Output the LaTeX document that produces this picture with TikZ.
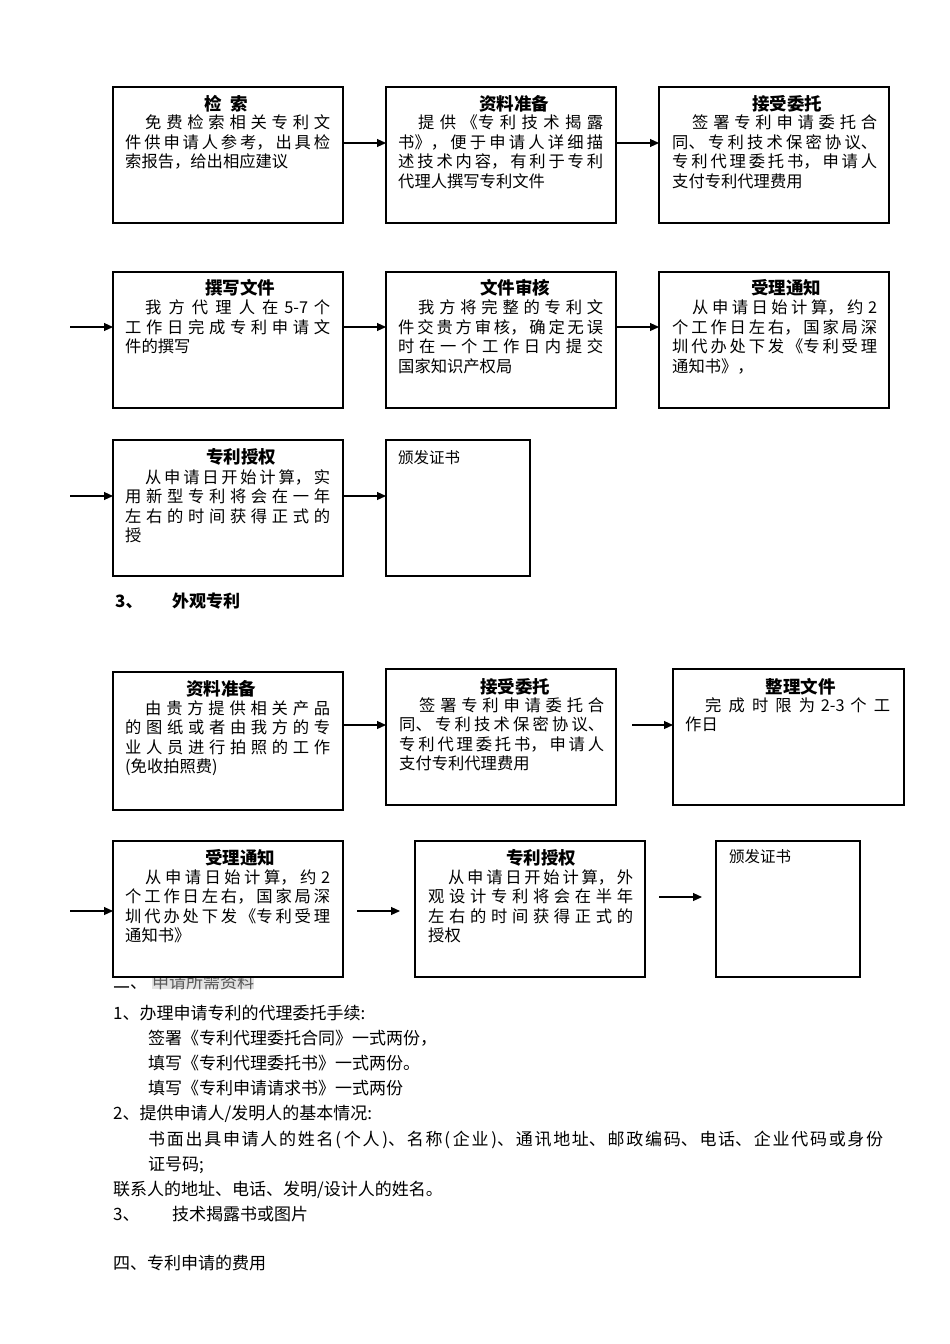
\documentclass[tikz,border=0pt]{standalone}
\usepackage{fontspec}
\setmainfont{Noto Sans CJK SC}
\usetikzlibrary{arrows.meta,calc}
\XeTeXlinebreaklocale "zh"
\XeTeXlinebreakskip=0pt plus 6pt
\hbadness=10000

\tikzset{
  stage/.style={draw, line width=1.2pt, fill=white, minimum width=230pt, minimum height=136pt, inner sep=0pt, outer sep=0pt},
  small stage/.style={stage, minimum width=144pt},
  heading/.style={font=\bfseries\fontsize{17.5}{19}\selectfont, inner sep=0pt, anchor=base},
  body/.style={font=\fontsize{16.3}{19.6}\selectfont, text width=205pt, align=justify, inner sep=0pt, anchor=base west},
  flow/.style={-{Triangle[length=9pt,width=8pt]}, line width=1.1pt},
  note/.style={font=\fontsize{17}{25}\selectfont, inner sep=0pt, anchor=base west},
}

\begin{document}
\begin{tikzpicture}[x=1pt,y=-1pt]
\useasboundingbox (0,0) rectangle (950,1344);

\node[note] (req) at (113,988) {二、};
\node[note, fill=gray!22, text=black!65] (reqtitle) at (152,988) {申请所需资料};
\node[note] (req1) at (113,1019.5) {1、办理申请专利的代理委托手续:};
\node[note] (req1a) at (148,1044.5) {签署《专利代理委托合同》一式两份，};
\node[note] (req1b) at (148,1069.5) {填写《专利代理委托书》一式两份。};
\node[note] (req1c) at (148,1094.5) {填写《专利申请请求书》一式两份};
\node[note] (req2) at (113,1119.5) {2、提供申请人/发明人的基本情况:};
\node[note, text width=735pt, align=justify] (req2a) at (148,1145.5)
  {书面出具申请人的姓名(\,个人\,)、名称(\,企业\,)、通讯地址、邮政编码、电话、企业代码或身份\linebreak 证号码;};
\node[note] (req2b) at (113,1195.5) {联系人的地址、电话、发明/设计人的姓名。};
\node[note] (req3) at (113,1220.5) {3、};
\node[note] (req3a) at (172,1220.5) {技术揭露书或图片};
\node[note] (fee) at (113,1269.5) {四、专利申请的费用};

\node[note, font=\bfseries\fontsize{17}{20}\selectfont] (sec3) at (115,607.5) {3、};
\node[note, font=\bfseries\fontsize{17}{20}\selectfont] (sec3t) at (172,607.5) {外观专利};

\node[stage] (a) at (228,155) {};
\node[stage] (b) at (501,155) {};
\node[stage] (c) at (774,155) {};
\node[stage] (d) at (228,340) {};
\node[stage] (e) at (501,340) {};
\node[stage] (f) at (774,340) {};
\node[stage] (g) at (228,508) {};
\node[small stage] (h) at (458,508) {};
\node[stage, minimum height=138pt] (i) at (228,741) {};
\node[stage] (j) at (501,737) {};
\node[stage, minimum width=231pt] (k) at (788.5,737) {};
\node[stage] (l) at (228,909) {};
\node[stage] (m) at (530,909) {};
\node[small stage] (n) at (788,909) {};

\node[heading] (aT) at ([xshift=-2pt,yshift=-23pt]a.north) {检\hspace{9pt}索};
\node[body] (aB) at ([xshift=12pt,yshift=-41.5pt]a.north west)
  {\hspace*{20pt}免费检索相关专利文\linebreak 件供申请人参考，出具检\linebreak 索报告，给出相应建议};
\node[heading] (bT) at ([xshift=13pt,yshift=-23pt]b.north) {资料准备};
\node[body] (bB) at ([xshift=12pt,yshift=-41.5pt]b.north west)
  {\hspace*{20pt}提供《专利技术揭露\linebreak 书》，便于申请人详细描\linebreak 述技术内容，有利于专利\linebreak 代理人撰写专利文件};
\node[heading] (cT) at ([xshift=13pt,yshift=-23pt]c.north) {接受委托};
\node[body] (cB) at ([xshift=13pt,yshift=-41.5pt]c.north west)
  {\hspace*{20pt}签署专利申请委托合\linebreak 同、专利技术保密协议、\linebreak 专利代理委托书，申请人\linebreak 支付专利代理费用};

\node[heading] (dT) at ([xshift=12pt,yshift=-22.5pt]d.north) {撰写文件};
\node[body] (dB) at ([xshift=12pt,yshift=-41.5pt]d.north west)
  {\hspace*{20pt}我方代理人在 5-7 个\linebreak 工作日完成专利申请文\linebreak 件的撰写};
\node[heading] (eT) at ([xshift=14pt,yshift=-22.5pt]e.north) {文件审核};
\node[body] (eB) at ([xshift=12pt,yshift=-41.5pt]e.north west)
  {\hspace*{20pt}我方将完整的专利文\linebreak 件交贵方审核，确定无误\linebreak 时在一个工作日内提交\linebreak 国家知识产权局};
\node[heading] (fT) at ([xshift=12pt,yshift=-22.5pt]f.north) {受理通知};
\node[body] (fB) at ([xshift=13pt,yshift=-41.5pt]f.north west)
  {\hspace*{20pt}从申请日始计算，约 2\linebreak 个工作日左右，国家局深\linebreak 圳代办处下发《专利受理\linebreak 通知书》，};

\node[heading] (gT) at ([xshift=13pt,yshift=-23.5pt]g.north) {专利授权};
\node[body] (gB) at ([xshift=12pt,yshift=-43pt]g.north west)
  {\hspace*{20pt}从申请日开始计算，实\linebreak 用新型专利将会在一年\linebreak 左右的时间获得正式的\linebreak 授};
\node[body, text width=120pt, align=left, font=\fontsize{15.5}{18}\selectfont] (hB) at ([xshift=12pt,yshift=-23pt]h.north west) {颁发证书};

\node[heading] (iT) at ([xshift=-7pt,yshift=-23.5pt]i.north) {资料准备};
\node[body] (iB) at ([xshift=12pt,yshift=-42pt]i.north west)
  {\hspace*{20pt}由贵方提供相关产品\linebreak 的图纸或者由我方的专\linebreak 业人员进行拍照的工作\linebreak (免收拍照费)};
\node[heading] (jT) at ([xshift=14pt,yshift=-24.5pt]j.north) {接受委托};
\node[body] (jB) at ([xshift=13pt,yshift=-42pt]j.north west)
  {\hspace*{20pt}签署专利申请委托合\linebreak 同、专利技术保密协议、\linebreak 专利代理委托书，申请人\linebreak 支付专利代理费用};
\node[heading] (kT) at ([xshift=12pt,yshift=-24.5pt]k.north) {整理文件};
\node[body] (kB) at ([xshift=12pt,yshift=-42pt]k.north west)
  {\hspace*{20pt}完成时限为 2-3 个工\linebreak 作日};

\node[heading] (lT) at ([xshift=12pt,yshift=-23.5pt]l.north) {受理通知};
\node[body] (lB) at ([xshift=12pt,yshift=-42pt]l.north west)
  {\hspace*{20pt}从申请日始计算，约 2\linebreak 个工作日左右，国家局深\linebreak 圳代办处下发《专利受理\linebreak 通知书》};
\node[heading] (mT) at ([xshift=11pt,yshift=-23.5pt]m.north) {专利授权};
\node[body] (mB) at ([xshift=13pt,yshift=-42pt]m.north west)
  {\hspace*{20pt}从申请日开始计算，外\linebreak 观设计专利将会在半年\linebreak 左右的时间获得正式的\linebreak 授权};
\node[body, text width=120pt, align=left, font=\fontsize{15.5}{18}\selectfont] (nB) at ([xshift=13pt,yshift=-21pt]n.north west) {颁发证书};

\coordinate (inD) at (70,327);
\coordinate (inG) at (70,496);
\coordinate (inL) at (70,911);

\draw[flow] ([yshift=12pt]a.east) -- ([yshift=12pt]b.west);
\draw[flow] ([yshift=12pt]b.east) -- ([yshift=12pt]c.west);
\draw[flow] (inD) -- (inD -| d.west);
\draw[flow] ([yshift=13pt]d.east) -- ([yshift=13pt]e.west);
\draw[flow] ([yshift=13pt]e.east) -- ([yshift=13pt]f.west);
\draw[flow] (inG) -- (inG -| g.west);
\draw[flow] ([yshift=12pt]g.east) -- ([yshift=12pt]h.west);
\draw[flow] ([yshift=16pt]i.east) -- ([yshift=12pt]j.west);
\draw[flow, shorten <=16pt] ([yshift=12pt]j.east) -- ([yshift=12pt]k.west);
\draw[flow] (inL) -- (inL -| l.west);
\draw[flow, shorten <=14pt, shorten >=15pt] ([yshift=-2pt]l.east) -- ([yshift=-2pt]m.west);
\draw[flow, shorten <=14pt, shorten >=14pt] ([yshift=12pt]m.east) -- ([yshift=12pt]n.west);
\end{tikzpicture}
\end{document}
